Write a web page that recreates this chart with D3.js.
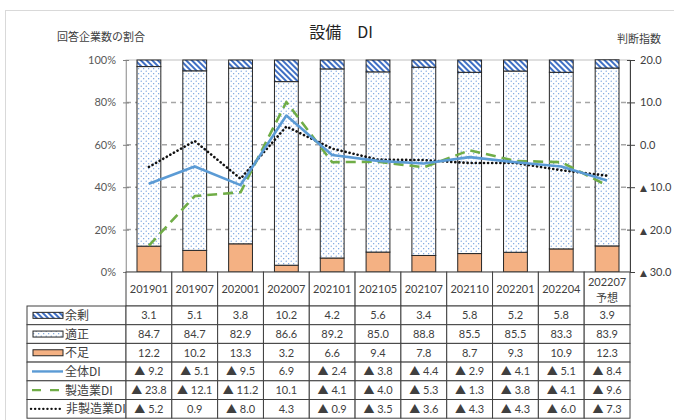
<!DOCTYPE html>
<html>
<head>
<meta charset="utf-8">
<script src="https://cdn.jsdelivr.net/npm/d3@7"></script>
<style>
  body { margin: 0; background: white; }
</style>
</head>
<body>
<div id="container"></div>
<script>
let w = 674;
let h = 420;

// data
let categories = ["201901", "201907", "202001", "202007", "202101", "202105", "202107", "202110", "202201", "202204", "202207"];
let subLabels = ["", "", "", "", "", "", "", "", "", "", "予想"];
let surplus = [3.1, 5.1, 3.8, 10.2, 4.2, 5.6, 3.4, 5.8, 5.2, 5.8, 3.9];
let proper = [84.7, 84.7, 82.9, 86.6, 89.2, 85.0, 88.8, 85.5, 85.5, 83.3, 83.9];
let shortage = [12.2, 10.2, 13.3, 3.2, 6.6, 9.4, 7.8, 8.7, 9.3, 10.9, 12.3];
let diAll = [-9.2, -5.1, -9.5, 6.9, -2.4, -3.8, -4.4, -2.9, -4.1, -5.1, -8.4];
let diMfg = [-23.8, -12.1, -11.2, 10.1, -4.1, -4.0, -5.3, -1.3, -3.8, -4.1, -9.6];
let diNonMfg = [-5.2, 0.9, -8.0, 4.3, -0.9, -3.5, -3.6, -4.3, -4.3, -6.0, -7.3];
let leftTicks = [0, 20, 40, 60, 80, 100];
let rightTicks = [-30, -20, -10, 0, 10, 20];

let jp = "'Noto Sans CJK JP', sans-serif";
let num = "Lato, 'Noto Sans CJK JP', sans-serif";

let viz = d3.select("#container")
  .append("svg")
  .attr("width", w)
  .attr("height", h)
  .style("display", "block");

// patterns
let defs = viz.append("defs");
let stripe = defs.append("pattern")
  .attr("id", "stripe")
  .attr("patternUnits", "userSpaceOnUse")
  .attr("width", 4)
  .attr("height", 4)
  .attr("patternTransform", "rotate(-45)");
stripe.append("rect").attr("width", 4).attr("height", 4).attr("fill", "white");
stripe.append("line")
  .attr("x1", 1).attr("y1", 0).attr("x2", 1).attr("y2", 4)
  .attr("stroke", "#3f6fc4").attr("stroke-width", 2);

let dots = defs.append("pattern")
  .attr("id", "dots")
  .attr("patternUnits", "userSpaceOnUse")
  .attr("width", 5)
  .attr("height", 5);
dots.append("rect").attr("width", 5).attr("height", 5).attr("fill", "white");
dots.append("circle").attr("cx", 1.2).attr("cy", 1.2).attr("r", 0.6).attr("fill", "#5b8fd8");
dots.append("circle").attr("cx", 3.7).attr("cy", 3.7).attr("r", 0.6).attr("fill", "#5b8fd8");

// outer frame
viz.append("rect")
  .attr("x", 5.5).attr("y", 10.5)
  .attr("width", w + 10).attr("height", h + 10)
  .attr("fill", "none")
  .attr("stroke", "#d9d9d9");

// scales
let pLeft = 126, pRight = 630, pTop = 60, pBottom = 272;
let x = d3.scaleBand().domain(categories).range([pLeft, pRight]).paddingInner(0.48).paddingOuter(0.24);
let xCol = d3.scaleBand().domain(categories).range([pLeft, pRight]);
let yL = d3.scaleLinear().domain([0, 100]).range([pBottom, pTop]);
let yR = d3.scaleLinear().domain([-30, 20]).range([pBottom, pTop]);

// titles
viz.append("text")
  .text("設備　DI")
  .attr("x", 341).attr("y", 38)
  .attr("text-anchor", "middle")
  .attr("font-size", "16px")
  .attr("font-family", jp)
  .attr("fill", "#222");

viz.append("text")
  .text("回答企業数の割合")
  .attr("x", 57).attr("y", 41)
  .attr("font-size", "11px")
  .attr("font-family", jp)
  .attr("fill", "#404040");

viz.append("text")
  .text("判断指数")
  .attr("x", 617).attr("y", 43)
  .attr("font-size", "11px")
  .attr("font-family", jp)
  .attr("fill", "#404040");

// plot area frame + grid
viz.append("rect")
  .attr("x", pLeft).attr("y", pTop)
  .attr("width", pRight - pLeft).attr("height", pBottom - pTop)
  .attr("fill", "none")
  .attr("stroke", "#bfbfbf");

viz.append("g").selectAll("line")
  .data([20, 40, 60, 80])
  .enter().append("line")
  .attr("x1", pLeft).attr("x2", pRight)
  .attr("y1", d => yL(d)).attr("y2", d => yL(d))
  .attr("stroke", "#a6a6a6")
  .attr("stroke-width", 1.5)
  .attr("stroke-dasharray", "5,4");

// stacked bars
let rows = categories.map((c, i) => ({ cat: c, shortage: shortage[i], proper: proper[i], surplus: surplus[i] }));
let stack = d3.stack().keys(["shortage", "proper", "surplus"]);
let fills = { shortage: "#f4b183", proper: "url(#dots)", surplus: "url(#stripe)" };

let layers = viz.append("g").selectAll("g")
  .data(stack(rows))
  .enter().append("g")
  .attr("fill", d => fills[d.key]);

layers.selectAll("rect")
  .data(d => d)
  .enter().append("rect")
  .attr("x", d => x(d.data.cat))
  .attr("width", x.bandwidth())
  .attr("y", d => yL(d[1]))
  .attr("height", d => yL(d[0]) - yL(d[1]))
  .attr("stroke", "#262626")
  .attr("stroke-width", 1);

// axes
let axisL = viz.append("g")
  .attr("transform", "translate(" + pLeft + ",0)")
  .call(d3.axisLeft(yL).tickValues(leftTicks).tickFormat(d => d + "%").tickSize(3).tickPadding(7));
axisL.select(".domain").attr("stroke", "#a6a6a6");
axisL.selectAll(".tick line").attr("stroke", "#808080").attr("x2", 3).attr("x1", -3);
axisL.selectAll("text").attr("font-size", "11px").attr("font-family", num).attr("fill", "#595959");

let axisR = viz.append("g")
  .attr("transform", "translate(" + pRight + ",0)")
  .call(d3.axisRight(yR).tickValues(rightTicks).tickFormat(d => Math.abs(d).toFixed(1))
    .tickSize(5).tickPadding(5));
axisR.select(".domain").attr("stroke", "#404040");
axisR.selectAll(".tick line").attr("stroke", "#404040").attr("x1", -3);
axisR.selectAll("text").attr("font-size", "11px").attr("font-family", num).attr("fill", "#404040");
// negative values get a small triangle in front
axisR.selectAll(".tick text").each(function(d) {
  if (d < 0) {
    let t = d3.select(this);
    let label = t.text();
    t.text("");
    t.append("tspan").text("▲").attr("font-size", "9px").attr("font-family", "'DejaVu Sans', sans-serif");
    t.append("tspan").text(" " + label);
  }
});

// DI lines
let line = d3.line()
  .x((d, i) => x(categories[i]) + x.bandwidth() / 2)
  .y(d => yR(d));

let lineStyles = [
  { values: diNonMfg, color: "#111", dash: "0.1,4", cap: "round", width: 2.6 },
  { values: diMfg, color: "#70ad47", dash: "10,6", cap: "butt", width: 2.6 },
  { values: diAll, color: "#5b9bd5", dash: null, cap: "butt", width: 2.6 }
];

lineStyles.forEach(s => {
  viz.append("path")
    .datum(s.values)
    .attr("d", line)
    .attr("fill", "none")
    .attr("stroke", s.color)
    .attr("stroke-width", s.width)
    .attr("stroke-dasharray", s.dash)
    .attr("stroke-linecap", s.cap)
    .attr("stroke-linejoin", "round");
});

// table
let headTop = pBottom, headBottom = 306, rowH = 18.7, legendLeft = 27;
let gridColor = "#404040";
let fmt = v => v < 0 ? "▲ " + Math.abs(v).toFixed(1) : v.toFixed(1);

let table = viz.append("g");

// header cells
let heads = table.selectAll(".head")
  .data(categories)
  .enter().append("g")
  .attr("class", "head");

heads.append("rect")
  .attr("x", d => xCol(d))
  .attr("y", headTop)
  .attr("width", xCol.bandwidth())
  .attr("height", headBottom - headTop)
  .attr("fill", "white")
  .attr("stroke", gridColor);

heads.append("text")
  .text(d => d)
  .attr("x", d => xCol(d) + xCol.bandwidth() / 2)
  .attr("y", (d, i) => subLabels[i] ? 286 : 293)
  .attr("text-anchor", "middle")
  .attr("font-size", "11px")
  .attr("font-family", num)
  .attr("fill", "#404040");

heads.append("text")
  .text((d, i) => subLabels[i])
  .attr("x", d => xCol(d) + xCol.bandwidth() / 2)
  .attr("y", 302)
  .attr("text-anchor", "middle")
  .attr("font-size", "11px")
  .attr("font-family", jp)
  .attr("fill", "#404040");

let tableRows = [
  { name: "余剰", values: surplus, kind: "stripe" },
  { name: "適正", values: proper, kind: "dots" },
  { name: "不足", values: shortage, kind: "orange" },
  { name: "全体DI", values: diAll, kind: "all" },
  { name: "製造業DI", values: diMfg, kind: "mfg" },
  { name: "非製造業DI", values: diNonMfg, kind: "non" }
];

tableRows.forEach((r, ri) => {
  let y0 = headBottom + ri * rowH;
  let cy = y0 + rowH / 2;

  table.append("rect")
    .attr("x", legendLeft).attr("y", y0)
    .attr("width", pLeft - legendLeft).attr("height", rowH)
    .attr("fill", "white")
    .attr("stroke", gridColor);

  categories.forEach((c, ci) => {
    table.append("rect")
      .attr("x", xCol(c)).attr("y", y0)
      .attr("width", xCol.bandwidth()).attr("height", rowH)
      .attr("fill", "white")
      .attr("stroke", gridColor);
    table.append("text")
      .text(fmt(r.values[ci]))
      .attr("x", xCol(c) + xCol.bandwidth() / 2)
      .attr("y", cy + 4)
      .attr("text-anchor", "middle")
      .attr("font-size", "11px")
      .attr("font-family", num)
      .attr("fill", "#404040");
  });

  // legend key
  if (r.kind == "stripe" || r.kind == "dots" || r.kind == "orange") {
    table.append("rect")
      .attr("x", 33).attr("y", cy - 3)
      .attr("width", 30).attr("height", 6)
      .attr("fill", r.kind == "stripe" ? "url(#stripe)" : r.kind == "dots" ? "url(#dots)" : "#f4b183")
      .attr("stroke", "#262626")
      .attr("stroke-width", 1);
  } else {
    let st = r.kind == "all" ? lineStyles[2] : r.kind == "mfg" ? lineStyles[1] : lineStyles[0];
    table.append("line")
      .attr("x1", r.kind == "non" ? 31 : 32).attr("x2", 63)
      .attr("y1", cy).attr("y2", cy)
      .attr("stroke", st.color)
      .attr("stroke-width", 2.4)
      .attr("stroke-dasharray", r.kind == "mfg" ? "9,9" : st.dash)
      .attr("stroke-linecap", st.cap);
  }

  table.append("text")
    .text(r.name)
    .attr("x", r.kind == "non" ? 66 : 65)
    .attr("y", cy + 4.5)
    .attr("font-size", "12px")
    .attr("font-family", jp)
    .attr("fill", "#404040");
});
</script>
</body>
</html>
